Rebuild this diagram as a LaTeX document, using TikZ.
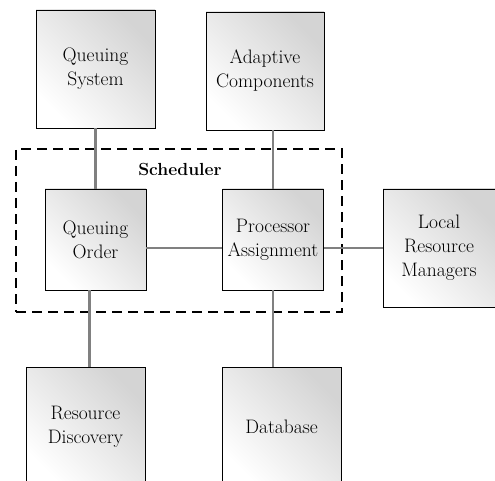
\documentclass[tikz,border=0pt]{standalone}
\usepackage{fontspec}
\usetikzlibrary{positioning}
\tikzstyle{blk}=[draw, line width=0.8pt, top color=black!17, bottom color=white, shading angle=-45, align=center, font=\fontsize{19.5}{24}\selectfont]
\tikzstyle{link}=[line width=2.8pt, black!50]

\begin{document}
\begin{tikzpicture}[x=1pt,y=1pt]
    \clip (0,0) rectangle (495,-481);
    \node [blk, minimum size=101pt] (qo) at (95.5,-239.5) {Queuing\\Order};
    \node [blk, minimum size=101pt] (pa) [right of=qo, node distance=177.5pt] {Processor\\Assignment};
    \node [blk, minimum width=119pt, minimum height=118pt] (qs) [above of=qo, node distance=170.5pt] {Queuing\\System};
    \node [blk, minimum size=118pt] (ac) at (265,-71) {Adaptive\\Components};
    \node [blk, minimum width=112pt, minimum height=118pt] (lrm) at (439,-248) {Local\\Resource\\Managers};
    \node [blk, minimum size=119pt] (rd) at (85.5,-426.5) {Resource\\Discovery};
    \node [blk, minimum size=119pt] (db) [right of=rd, node distance=196pt] {Database};
    % scheduler group
    \node [draw, dashed, dash pattern=on 10pt off 6pt, line width=1.4pt, minimum width=326pt, minimum height=163pt] (sch) at (179,-230.5) {};
    \node [font=\fontsize{17.5}{24}\selectfont\bfseries] (schl) at (180,-169) {Scheduler};
    % links
    \draw [link] (qs.south) -- (qs.south |- qo.north);
    \draw [link] (pa.north) -- (pa.north |- ac.south);
    \draw [link] (qo.east |- lrm.west) -- (pa.west |- lrm.west);
    \draw [link] (pa.east |- lrm.west) -- (lrm.west);
    \draw [link] ([xshift=4pt]rd.north) -- ([xshift=4pt]rd.north |- qo.south);
    \draw [link] (db.north -| pa.south) -- (pa.south);
\end{tikzpicture}
\end{document}
